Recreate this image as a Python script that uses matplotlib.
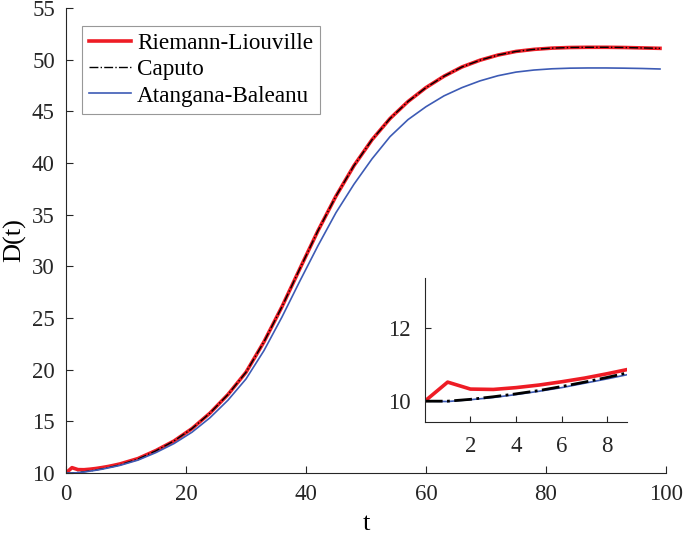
import numpy as np
import matplotlib
matplotlib.use('Agg')
import matplotlib.pyplot as plt

# time samples (dense at the start for the inset)
t = [0, 1, 2, 3, 4, 5, 6, 7, 8, 9, 12, 15, 18, 21, 24, 27, 30, 33, 36, 39,
     42, 45, 48, 51, 54, 57, 60, 63, 66, 69, 72, 75, 78, 81, 84, 87, 90, 93, 96, 99]

# Riemann-Liouville
d_rl = [10.00, 10.52, 10.33, 10.32, 10.37, 10.44, 10.53, 10.63, 10.75, 10.88,
        11.40, 12.18, 13.10, 14.30, 15.80, 17.60, 19.75, 22.70, 26.10, 29.80,
        33.45, 36.80, 39.75, 42.25, 44.30, 45.95, 47.30, 48.40, 49.30, 49.95,
        50.45, 50.80, 51.00, 51.12, 51.18, 51.20, 51.20, 51.18, 51.14, 51.10]

# Caputo
d_c = [10.00, 10.00, 10.05, 10.12, 10.20, 10.29, 10.40, 10.52, 10.65, 10.79,
       11.35, 12.15, 13.10, 14.30, 15.80, 17.60, 19.75, 22.70, 26.10, 29.80,
       33.45, 36.80, 39.75, 42.25, 44.30, 45.95, 47.30, 48.40, 49.30, 49.95,
       50.45, 50.80, 51.00, 51.12, 51.18, 51.20, 51.20, 51.18, 51.14, 51.10]

# Atangana-Baleanu
d_ab = [10.00, 9.99, 10.04, 10.10, 10.18, 10.27, 10.37, 10.49, 10.61, 10.74,
        11.25, 11.98, 12.85, 13.95, 15.35, 17.05, 19.10, 21.85, 25.10, 28.60,
        32.00, 35.20, 37.95, 40.40, 42.55, 44.20, 45.45, 46.50, 47.30, 47.95,
        48.45, 48.80, 49.00, 49.12, 49.18, 49.20, 49.20, 49.18, 49.15, 49.10]

red = '#EE1C25'
blue = '#3D5BB5'

plt.rcParams['font.family'] = ['Liberation Serif', 'DejaVu Serif']

fig = plt.figure(figsize=(6.83, 5.39), dpi=100)
ax = fig.add_axes([0.0966, 0.1224, 0.8785, 0.8627])

ax.plot(t, d_rl, color=red, lw=2.6, label='Riemann-Liouville')
ax.plot(t, d_c, color='black', lw=1.0, ls='-.', label='Caputo')
ax.plot(t, d_ab, color=blue, lw=1.2, label='Atangana-Baleanu')

ax.set_xlim(0, 100)
ax.set_ylim(10, 55)
ax.set_xticks(range(0, 101, 20))
ax.set_yticks(range(10, 56, 5))
ax.set_xlabel('t', fontsize=19, labelpad=6)
ax.set_ylabel('D(t)', fontsize=19, labelpad=4)
ax.spines['top'].set_visible(False)
ax.spines['right'].set_visible(False)
for s in ('left', 'bottom'):
    ax.spines[s].set_color('#262626')
    ax.spines[s].set_linewidth(0.8)
ax.tick_params(direction='in', length=5, labelsize=16.5, colors='#262626', pad=8)

leg = ax.legend(loc='upper left', bbox_to_anchor=(0.026, 0.962), fontsize=16.7,
                frameon=True, fancybox=False, borderpad=0.3, labelspacing=0.22,
                handlelength=1.85, handletextpad=0.25, borderaxespad=0)
leg.get_frame().set_edgecolor('#7f7f7f')
leg.get_frame().set_linewidth(0.8)

# inset
ins = fig.add_axes([0.622, 0.217, 0.296, 0.267])
ins.plot(t, d_rl, color=red, lw=2.6)
ins.plot(t, d_ab, color=blue, lw=1.2)
ins.plot(t, d_c, color='black', lw=2.0, ls='-.')
ins.set_xlim(0, 8.86)
ins.set_ylim(9.43, 13.36)
ins.set_xticks([2, 4, 6, 8])
ins.set_yticks([10, 12])
ins.spines['top'].set_visible(False)
ins.spines['right'].set_visible(False)
for s in ('left', 'bottom'):
    ins.spines[s].set_color('#262626')
    ins.spines[s].set_linewidth(0.8)
ins.tick_params(direction='in', length=4, labelsize=16.5, colors='#262626', pad=10)

plt.savefig('out.png', dpi=100)
